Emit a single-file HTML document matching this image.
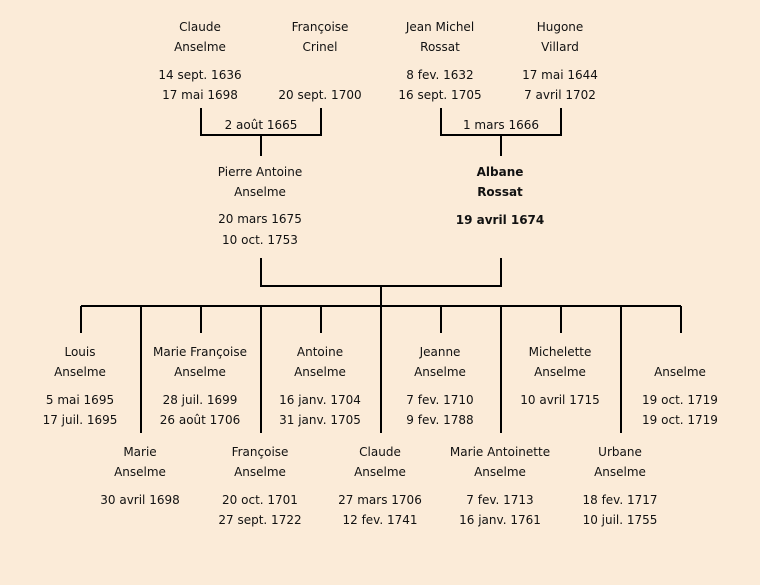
<!DOCTYPE html>
<html><head><style>
html,body{margin:0;padding:0;background:#fbebd8;width:760px;height:585px;overflow:hidden;}
svg{display:block;}
svg text{font-family:"Comic Sans MS","DejaVu Sans",sans-serif;font-size:12px;fill:#111;text-anchor:middle;dominant-baseline:central;}
</style></head><body>
<svg width="760" height="585" xmlns="http://www.w3.org/2000/svg">
<rect width="760" height="585" fill="#fbebd8"/>
<g stroke="#000" stroke-width="2" fill="none">
<path d="M201 108V135H321V108M261 135V156"/>
<path d="M441 108V135H561V108M501 135V156"/>
<path d="M261 258V286H501V258M381 286V306M81 306H681"/>
<path d="M81 306V333M201 306V333M321 306V333M441 306V333M561 306V333M681 306V333"/>
<path d="M141 306V433M261 306V433M381 306V433M501 306V433M621 306V433"/>
</g>
<text x="200" y="27">Claude</text><text x="200" y="47">Anselme</text><text x="200" y="75">14 sept. 1636</text><text x="200" y="95">17 mai 1698</text>
<text x="320" y="27">Françoise</text><text x="320" y="47">Crinel</text><text x="320" y="95">20 sept. 1700</text>
<text x="440" y="27">Jean Michel</text><text x="440" y="47">Rossat</text><text x="440" y="75">8 fev. 1632</text><text x="440" y="95">16 sept. 1705</text>
<text x="560" y="27">Hugone</text><text x="560" y="47">Villard</text><text x="560" y="75">17 mai 1644</text><text x="560" y="95">7 avril 1702</text>
<text x="261" y="125">2 août 1665</text><text x="501" y="125">1 mars 1666</text>
<text x="260" y="172">Pierre Antoine</text><text x="260" y="192">Anselme</text><text x="260" y="219">20 mars 1675</text><text x="260" y="240">10 oct. 1753</text>
<text x="500" y="172" font-weight="bold">Albane</text><text x="500" y="192" font-weight="bold">Rossat</text><text x="500" y="220" font-weight="bold">19 avril 1674</text>
<text x="80" y="352">Louis</text><text x="80" y="372">Anselme</text><text x="80" y="400">5 mai 1695</text><text x="80" y="420">17 juil. 1695</text>
<text x="200" y="352">Marie Françoise</text><text x="200" y="372">Anselme</text><text x="200" y="400">28 juil. 1699</text><text x="200" y="420">26 août 1706</text>
<text x="320" y="352">Antoine</text><text x="320" y="372">Anselme</text><text x="320" y="400">16 janv. 1704</text><text x="320" y="420">31 janv. 1705</text>
<text x="440" y="352">Jeanne</text><text x="440" y="372">Anselme</text><text x="440" y="400">7 fev. 1710</text><text x="440" y="420">9 fev. 1788</text>
<text x="560" y="352">Michelette</text><text x="560" y="372">Anselme</text><text x="560" y="400">10 avril 1715</text>
<text x="680" y="372">Anselme</text><text x="680" y="400">19 oct. 1719</text><text x="680" y="420">19 oct. 1719</text>
<text x="140" y="452">Marie</text><text x="140" y="472">Anselme</text><text x="140" y="500">30 avril 1698</text>
<text x="260" y="452">Françoise</text><text x="260" y="472">Anselme</text><text x="260" y="500">20 oct. 1701</text><text x="260" y="520">27 sept. 1722</text>
<text x="380" y="452">Claude</text><text x="380" y="472">Anselme</text><text x="380" y="500">27 mars 1706</text><text x="380" y="520">12 fev. 1741</text>
<text x="500" y="452">Marie Antoinette</text><text x="500" y="472">Anselme</text><text x="500" y="500">7 fev. 1713</text><text x="500" y="520">16 janv. 1761</text>
<text x="620" y="452">Urbane</text><text x="620" y="472">Anselme</text><text x="620" y="500">18 fev. 1717</text><text x="620" y="520">10 juil. 1755</text>
</svg>
</body></html>
